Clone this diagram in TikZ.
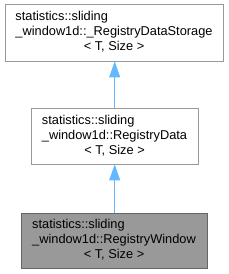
\documentclass[tikz,border=0pt]{standalone}
\usepackage{fontspec}
\setmainfont{Liberation Sans}
\usetikzlibrary{arrows.meta}
\definecolor{edgeblue}{HTML}{63B8FF}
\begin{document}
\begin{tikzpicture}[x=1pt,y=-1pt,
  cls/.style={draw=black!40,fill=white,line width=0.8pt,rectangle,inner xsep=0pt,inner ysep=0pt,
    font=\fontsize{12.8}{15}\selectfont},
  cur/.style={cls,draw=black!60,fill=black!40},
  inh/.style={draw=edgeblue,line width=0.9pt,-{Triangle[length=16pt,width=11pt,fill=edgeblue]}}]
\useasboundingbox (0,0) rectangle (229,274);
\node[cls,minimum width=218pt,minimum height=57pt] (a) at (114,32.5)
  {\begin{tabular}{@{}l@{}}statistics::sliding\\ \_window1d::\_RegistryDataStorage\\ \multicolumn{1}{@{}c@{}}{< T, Size >}\end{tabular}};
\node[cls,minimum width=167pt,minimum height=56pt] (b) at (114.5,136)
  {\begin{tabular}{@{}l@{}}statistics::sliding\\ \_window1d::RegistryData\\ \multicolumn{1}{@{}c@{}}{< T, Size >}\end{tabular}};
\node[cur,minimum width=186pt,minimum height=55pt] (c) at (114,240.5)
  {\begin{tabular}{@{}l@{}}statistics::sliding\\ \_window1d::RegistryWindow\\ \multicolumn{1}{@{}c@{}}{< T, Size >}\end{tabular}};
\draw[inh] (b.north -| 114.7,0) -- (a.south -| 114.7,0);
\draw[inh] (c.north -| 114.7,0) -- (b.south -| 114.7,0);
\end{tikzpicture}
\end{document}
